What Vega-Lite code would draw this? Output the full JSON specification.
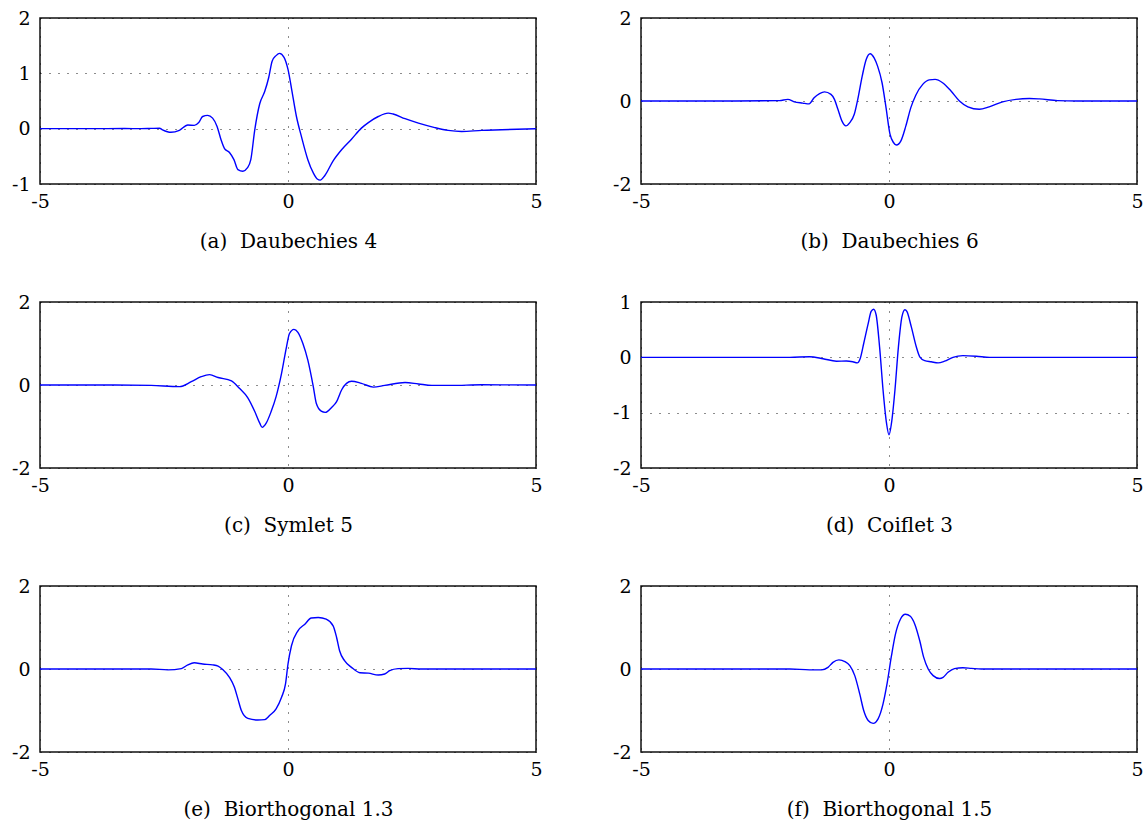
{
  "$schema": "https://vega.github.io/schema/vega-lite/v6.json",
  "padding": {"left": 10, "top": 8, "right": 5, "bottom": 5},
  "background": "white",
  "config": {
    "view": {"stroke": "#111", "strokeWidth": 1.5},
    "font": "DejaVu Serif",
    "axis": {
      "ticks": false, "domain": false, "grid": true,
      "gridColor": "#000", "gridDash": [1, 8], "gridWidth": 1, "gridOpacity": 0.9,
      "labelFont": "DejaVu Serif", "labelFontSize": 19, "labelColor": "#000",
      "labelFlush": false, "labelOverlap": false,
      "labelExpr": "'' + datum.value",
      "titleFont": "DejaVu Serif", "titleFontSize": 20, "titleFontWeight": "normal", "titleColor": "#000"
    },
    "axisX": {"labelPadding": 8, "titlePadding": 20},
    "axisY": {"labelPadding": 10}
  },
  "columns": 2,
  "bounds": "flush",
  "spacing": {"column": 105, "row": 118},
  "datasets": {
    "a": [{"x":-5,"y":0},{"x":-4,"y":0},{"x":-3.3,"y":0.003},{"x":-2.96,"y":0},{"x":-2.75,"y":0.005},{"x":-2.59,"y":0.008},{"x":-2.53,"y":-0.02},{"x":-2.36,"y":-0.066},{"x":-2.19,"y":-0.03},{"x":-2.02,"y":0.066},{"x":-1.89,"y":0.06},{"x":-1.8,"y":0.11},{"x":-1.72,"y":0.22},{"x":-1.62,"y":0.24},{"x":-1.52,"y":0.19},{"x":-1.43,"y":0.04},{"x":-1.35,"y":-0.2},{"x":-1.28,"y":-0.36},{"x":-1.18,"y":-0.43},{"x":-1.09,"y":-0.56},{"x":-1.01,"y":-0.74},{"x":-0.91,"y":-0.77},{"x":-0.82,"y":-0.71},{"x":-0.75,"y":-0.56},{"x":-0.67,"y":-0.02},{"x":-0.57,"y":0.45},{"x":-0.47,"y":0.67},{"x":-0.39,"y":0.92},{"x":-0.32,"y":1.22},{"x":-0.24,"y":1.32},{"x":-0.17,"y":1.36},{"x":-0.08,"y":1.29},{"x":0,"y":1.07},{"x":0.07,"y":0.73},{"x":0.17,"y":0.22},{"x":0.27,"y":-0.14},{"x":0.4,"y":-0.56},{"x":0.51,"y":-0.8},{"x":0.59,"y":-0.91},{"x":0.65,"y":-0.93},{"x":0.74,"y":-0.85},{"x":0.91,"y":-0.58},{"x":1.08,"y":-0.38},{"x":1.28,"y":-0.19},{"x":1.48,"y":0.01},{"x":1.62,"y":0.11},{"x":1.82,"y":0.22},{"x":2.02,"y":0.28},{"x":2.12,"y":0.265},{"x":2.36,"y":0.18},{"x":2.63,"y":0.1},{"x":2.96,"y":0.02},{"x":3.23,"y":-0.03},{"x":3.5,"y":-0.05},{"x":3.91,"y":-0.03},{"x":4.31,"y":-0.02},{"x":5,"y":0}],
    "b": [{"x":-5,"y":0},{"x":-3.4,"y":0},{"x":-2.21,"y":0.01},{"x":-2.04,"y":0.04},{"x":-1.91,"y":-0.02},{"x":-1.74,"y":-0.05},{"x":-1.61,"y":-0.07},{"x":-1.51,"y":0.08},{"x":-1.4,"y":0.18},{"x":-1.3,"y":0.22},{"x":-1.17,"y":0.16},{"x":-1.1,"y":0.04},{"x":-1.03,"y":-0.2},{"x":-0.95,"y":-0.48},{"x":-0.87,"y":-0.6},{"x":-0.79,"y":-0.52},{"x":-0.7,"y":-0.32},{"x":-0.63,"y":0.04},{"x":-0.54,"y":0.6},{"x":-0.46,"y":1.0},{"x":-0.38,"y":1.14},{"x":-0.3,"y":1.04},{"x":-0.23,"y":0.84},{"x":-0.14,"y":0.44},{"x":-0.06,"y":-0.16},{"x":0.02,"y":-0.8},{"x":0.09,"y":-1.0},{"x":0.15,"y":-1.06},{"x":0.24,"y":-0.96},{"x":0.34,"y":-0.6},{"x":0.44,"y":-0.16},{"x":0.54,"y":0.14},{"x":0.68,"y":0.4},{"x":0.81,"y":0.51},{"x":0.93,"y":0.52},{"x":1.08,"y":0.44},{"x":1.25,"y":0.24},{"x":1.42,"y":0},{"x":1.59,"y":-0.14},{"x":1.82,"y":-0.2},{"x":2.02,"y":-0.14},{"x":2.29,"y":-0.02},{"x":2.56,"y":0.04},{"x":2.83,"y":0.06},{"x":3.03,"y":0.05},{"x":3.4,"y":0.01},{"x":3.8,"y":0},{"x":5,"y":0}],
    "c": [{"x":-5,"y":0},{"x":-3.5,"y":0},{"x":-2.76,"y":-0.01},{"x":-2.19,"y":-0.04},{"x":-1.95,"y":0.08},{"x":-1.75,"y":0.2},{"x":-1.58,"y":0.25},{"x":-1.41,"y":0.18},{"x":-1.14,"y":0.1},{"x":-0.98,"y":-0.08},{"x":-0.81,"y":-0.31},{"x":-0.67,"y":-0.64},{"x":-0.57,"y":-0.92},{"x":-0.52,"y":-1.02},{"x":-0.44,"y":-0.92},{"x":-0.34,"y":-0.64},{"x":-0.24,"y":-0.28},{"x":-0.13,"y":0.28},{"x":-0.03,"y":0.92},{"x":0.03,"y":1.24},{"x":0.12,"y":1.34},{"x":0.2,"y":1.27},{"x":0.3,"y":1.0},{"x":0.4,"y":0.6},{"x":0.51,"y":-0.04},{"x":0.57,"y":-0.44},{"x":0.67,"y":-0.63},{"x":0.75,"y":-0.66},{"x":0.88,"y":-0.54},{"x":0.98,"y":-0.4},{"x":1.08,"y":-0.12},{"x":1.18,"y":0.04},{"x":1.28,"y":0.09},{"x":1.48,"y":0.04},{"x":1.72,"y":-0.05},{"x":1.95,"y":-0.01},{"x":2.36,"y":0.06},{"x":2.63,"y":0.025},{"x":2.9,"y":-0.01},{"x":3.3,"y":-0.01},{"x":3.9,"y":0.005},{"x":5,"y":0}],
    "d": [{"x":-5,"y":0},{"x":-2,"y":0},{"x":-1.6,"y":0.01},{"x":-1.33,"y":-0.025},{"x":-1.06,"y":-0.07},{"x":-0.86,"y":-0.066},{"x":-0.73,"y":-0.08},{"x":-0.64,"y":-0.1},{"x":-0.58,"y":-0.02},{"x":-0.51,"y":0.25},{"x":-0.42,"y":0.61},{"x":-0.36,"y":0.83},{"x":-0.31,"y":0.87},{"x":-0.26,"y":0.77},{"x":-0.19,"y":0.19},{"x":-0.12,"y":-0.59},{"x":-0.05,"y":-1.19},{"x":0,"y":-1.4},{"x":0.05,"y":-1.19},{"x":0.12,"y":-0.59},{"x":0.19,"y":0.19},{"x":0.26,"y":0.73},{"x":0.32,"y":0.86},{"x":0.36,"y":0.83},{"x":0.45,"y":0.55},{"x":0.55,"y":0.19},{"x":0.62,"y":0.01},{"x":0.72,"y":-0.06},{"x":0.85,"y":-0.08},{"x":0.99,"y":-0.1},{"x":1.12,"y":-0.07},{"x":1.29,"y":0},{"x":1.49,"y":0.03},{"x":1.76,"y":0.02},{"x":2.03,"y":0},{"x":5,"y":0}],
    "e": [{"x":-5,"y":0},{"x":-2.76,"y":0},{"x":-2.42,"y":-0.02},{"x":-2.15,"y":0.01},{"x":-2.02,"y":0.1},{"x":-1.89,"y":0.15},{"x":-1.72,"y":0.12},{"x":-1.52,"y":0.1},{"x":-1.41,"y":0.07},{"x":-1.31,"y":-0.02},{"x":-1.18,"y":-0.2},{"x":-1.08,"y":-0.44},{"x":-1.01,"y":-0.72},{"x":-0.94,"y":-1.0},{"x":-0.81,"y":-1.19},{"x":-0.61,"y":-1.23},{"x":-0.47,"y":-1.22},{"x":-0.37,"y":-1.12},{"x":-0.24,"y":-0.96},{"x":-0.13,"y":-0.68},{"x":-0.05,"y":-0.36},{"x":0,"y":0.12},{"x":0.07,"y":0.56},{"x":0.2,"y":0.92},{"x":0.34,"y":1.08},{"x":0.47,"y":1.23},{"x":0.61,"y":1.24},{"x":0.77,"y":1.2},{"x":0.91,"y":1.04},{"x":0.98,"y":0.76},{"x":1.04,"y":0.44},{"x":1.14,"y":0.2},{"x":1.28,"y":0.04},{"x":1.45,"y":-0.09},{"x":1.62,"y":-0.1},{"x":1.82,"y":-0.145},{"x":1.95,"y":-0.12},{"x":2.05,"y":-0.04},{"x":2.22,"y":0.01},{"x":2.42,"y":0.015},{"x":2.69,"y":0},{"x":5,"y":0}],
    "f": [{"x":-5,"y":0},{"x":-2,"y":0},{"x":-1.6,"y":-0.02},{"x":-1.36,"y":-0.02},{"x":-1.23,"y":0.04},{"x":-1.13,"y":0.16},{"x":-1.01,"y":0.22},{"x":-0.89,"y":0.18},{"x":-0.79,"y":0.08},{"x":-0.69,"y":-0.16},{"x":-0.59,"y":-0.6},{"x":-0.51,"y":-1.0},{"x":-0.42,"y":-1.24},{"x":-0.32,"y":-1.31},{"x":-0.22,"y":-1.2},{"x":-0.12,"y":-0.84},{"x":-0.04,"y":-0.36},{"x":0.05,"y":0.32},{"x":0.13,"y":0.84},{"x":0.23,"y":1.2},{"x":0.33,"y":1.32},{"x":0.43,"y":1.27},{"x":0.52,"y":1.08},{"x":0.62,"y":0.68},{"x":0.7,"y":0.28},{"x":0.79,"y":0},{"x":0.89,"y":-0.16},{"x":1.02,"y":-0.23},{"x":1.09,"y":-0.2},{"x":1.19,"y":-0.08},{"x":1.32,"y":0.01},{"x":1.49,"y":0.03},{"x":1.66,"y":0.016},{"x":1.86,"y":0},{"x":5,"y":0}]
  },
  "concat": [
    {
      "width": 496, "height": 166,
      "data": {"name": "a"},
      "mark": {"type": "line", "color": "#0000ff", "strokeWidth": 1.4, "interpolate": "monotone", "clip": true},
      "encoding": {
        "x": {"field": "x", "type": "quantitative", "scale": {"domain": [-5, 5], "nice": false, "zero": false}, "axis": {"values": [-5, 0, 5], "title": "(a)\u00a0\u00a0Daubechies\u00a04"}},
        "y": {"field": "y", "type": "quantitative", "scale": {"domain": [-1, 2], "nice": false, "zero": false}, "axis": {"values": [-1, 0, 1, 2], "title": null}}
      }
    },
    {
      "width": 496, "height": 166,
      "data": {"name": "b"},
      "mark": {"type": "line", "color": "#0000ff", "strokeWidth": 1.4, "interpolate": "monotone", "clip": true},
      "encoding": {
        "x": {"field": "x", "type": "quantitative", "scale": {"domain": [-5, 5], "nice": false, "zero": false}, "axis": {"values": [-5, 0, 5], "title": "(b)\u00a0\u00a0Daubechies\u00a06"}},
        "y": {"field": "y", "type": "quantitative", "scale": {"domain": [-2, 2], "nice": false, "zero": false}, "axis": {"values": [-2, 0, 2], "title": null}}
      }
    },
    {
      "width": 496, "height": 166,
      "data": {"name": "c"},
      "mark": {"type": "line", "color": "#0000ff", "strokeWidth": 1.4, "interpolate": "monotone", "clip": true},
      "encoding": {
        "x": {"field": "x", "type": "quantitative", "scale": {"domain": [-5, 5], "nice": false, "zero": false}, "axis": {"values": [-5, 0, 5], "title": "(c)\u00a0\u00a0Symlet\u00a05"}},
        "y": {"field": "y", "type": "quantitative", "scale": {"domain": [-2, 2], "nice": false, "zero": false}, "axis": {"values": [-2, 0, 2], "title": null}}
      }
    },
    {
      "width": 496, "height": 166,
      "data": {"name": "d"},
      "mark": {"type": "line", "color": "#0000ff", "strokeWidth": 1.4, "interpolate": "monotone", "clip": true},
      "encoding": {
        "x": {"field": "x", "type": "quantitative", "scale": {"domain": [-5, 5], "nice": false, "zero": false}, "axis": {"values": [-5, 0, 5], "title": "(d)\u00a0\u00a0Coiflet\u00a03"}},
        "y": {"field": "y", "type": "quantitative", "scale": {"domain": [-2, 1], "nice": false, "zero": false}, "axis": {"values": [-2, -1, 0, 1], "title": null}}
      }
    },
    {
      "width": 496, "height": 166,
      "data": {"name": "e"},
      "mark": {"type": "line", "color": "#0000ff", "strokeWidth": 1.4, "interpolate": "monotone", "clip": true},
      "encoding": {
        "x": {"field": "x", "type": "quantitative", "scale": {"domain": [-5, 5], "nice": false, "zero": false}, "axis": {"values": [-5, 0, 5], "title": "(e)\u00a0\u00a0Biorthogonal\u00a01.3"}},
        "y": {"field": "y", "type": "quantitative", "scale": {"domain": [-2, 2], "nice": false, "zero": false}, "axis": {"values": [-2, 0, 2], "title": null}}
      }
    },
    {
      "width": 496, "height": 166,
      "data": {"name": "f"},
      "mark": {"type": "line", "color": "#0000ff", "strokeWidth": 1.4, "interpolate": "monotone", "clip": true},
      "encoding": {
        "x": {"field": "x", "type": "quantitative", "scale": {"domain": [-5, 5], "nice": false, "zero": false}, "axis": {"values": [-5, 0, 5], "title": "(f)\u00a0\u00a0Biorthogonal\u00a01.5"}},
        "y": {"field": "y", "type": "quantitative", "scale": {"domain": [-2, 2], "nice": false, "zero": false}, "axis": {"values": [-2, 0, 2], "title": null}}
      }
    }
  ]
}
